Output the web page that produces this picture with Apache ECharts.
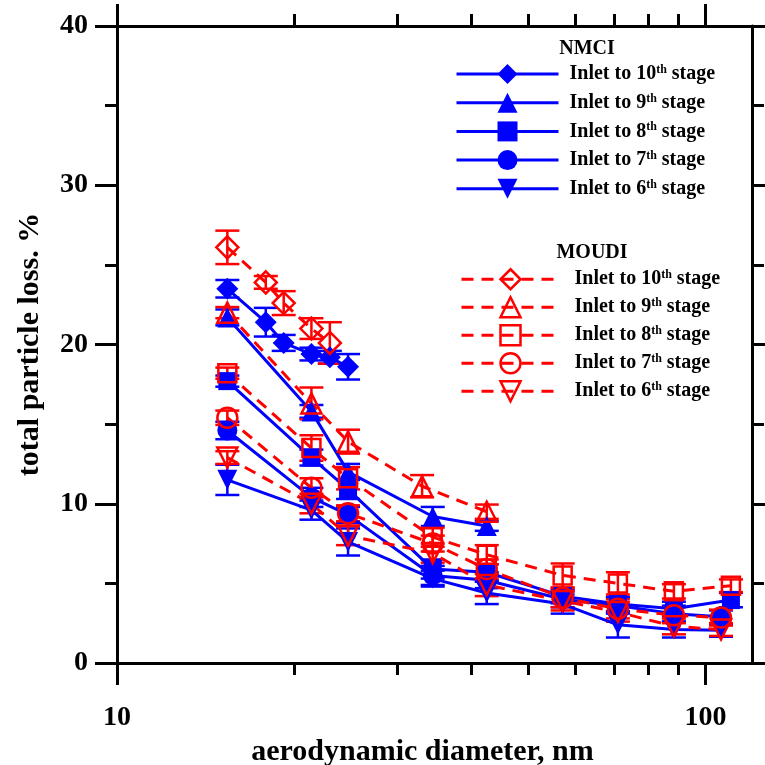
<!DOCTYPE html>
<html>
<head>
<meta charset="utf-8">
<script src="https://cdn.jsdelivr.net/npm/echarts@6/dist/echarts.min.js"></script>
<style>
  html, body { margin: 0; padding: 0; background: #fff; }
  #chart { width: 765px; height: 765px; }
</style>
</head>
<body>
<div id="chart"></div>
<script>
// Aerodynamic diameters (nm) and total particle loss (%) with error half-widths

// NMCI, inlet to 10th stage
const nmci10Size = [15.4, 17.9, 19.2, 21.4, 23.0, 24.7];
const nmci10Loss = [23.5, 21.4, 20.1, 19.4, 19.2, 18.6];
const nmci10Err  = [0.55, 0.9, 0.5, 0.4, 0.4, 0.8];
// NMCI, inlet to 9th stage
const nmci9Size = [15.4, 21.4, 24.7, 34.4, 42.5];
const nmci9Loss = [21.7, 15.8, 12.0, 9.2, 8.6];
const nmci9Err  = [0.5, 0.4, 0.5, 0.6, 0.3];
// NMCI, inlet to 8th stage
const nmci8Size = [15.4, 21.4, 24.7, 34.4, 42.5, 57.2, 71.0, 88.4, 110.5];
const nmci8Loss = [17.7, 12.9, 10.9, 5.9, 5.7, 4.2, 3.7, 3.4, 3.95];
const nmci8Err  = [0.35, 0.5, 0.6, 0.6, 0.5, 0.45, 0.45, 0.45, 0.45];
// NMCI, inlet to 7th stage
const nmci7Size = [15.4, 21.4, 24.7, 34.4, 42.5, 57.2, 71.0, 88.4, 106.3];
const nmci7Loss = [14.6, 10.4, 9.3, 5.5, 5.2, 4.0, 3.6, 3.1, 2.9];
const nmci7Err  = [0.55, 0.6, 0.5, 0.6, 0.5, 0.5, 0.5, 0.5, 0.4];
// NMCI, inlet to 6th stage
const nmci6Size = [15.4, 21.4, 24.7, 34.4, 42.5, 57.2, 71.0, 88.4, 106.3];
const nmci6Loss = [11.5, 9.6, 7.6, 5.3, 4.4, 3.7, 2.4, 2.1, 2.05];
const nmci6Err  = [0.95, 0.6, 0.85, 0.5, 0.7, 0.6, 0.8, 0.5, 0.4];

// MOUDI, inlet to 10th stage
const moudi10Size = [15.4, 17.9, 19.2, 21.4, 23.0];
const moudi10Loss = [26.1, 23.9, 22.6, 21.0, 20.1];
const moudi10Err  = [1.05, 0.4, 0.75, 0.65, 1.3];
// MOUDI, inlet to 9th stage
const moudi9Size = [15.4, 21.4, 24.7, 33.0, 42.5];
const moudi9Loss = [22.0, 16.3, 13.9, 11.1, 9.5];
const moudi9Err  = [0.35, 1.0, 0.75, 0.7, 0.45];
// MOUDI, inlet to 8th stage
const moudi8Size = [15.4, 21.4, 24.7, 34.4, 42.5, 57.2, 71.0, 88.4, 110.5];
const moudi8Loss = [18.2, 13.5, 11.6, 7.9, 6.8, 5.5, 5.0, 4.5, 4.85];
const moudi8Err  = [0.35, 0.8, 0.7, 0.6, 0.6, 0.75, 0.7, 0.45, 0.4];
// MOUDI, inlet to 7th stage
const moudi7Size = [15.4, 21.4, 24.7, 34.4, 42.5, 57.2, 71.0, 88.4, 106.3];
const moudi7Loss = [15.4, 11.0, 9.4, 7.5, 5.9, 4.1, 3.4, 3.0, 2.85];
const moudi7Err  = [0.45, 0.6, 0.5, 0.5, 0.6, 0.6, 0.6, 0.5, 0.5];
// MOUDI, inlet to 6th stage
const moudi6Size = [15.4, 21.4, 24.7, 34.4, 42.5, 57.2, 71.0, 88.4, 106.3];
const moudi6Loss = [12.9, 10.0, 8.0, 6.9, 4.9, 3.9, 3.2, 2.3, 2.1];
const moudi6Err  = [0.4, 0.6, 0.6, 0.6, 0.7, 0.6, 0.6, 0.5, 0.4];

// Axis ticks
const xMajorTicks = [10, 100];
const xMinorTicks = [20, 30, 40, 50, 60, 70, 80, 90];
const stageNumbers = ['10', '9', '8', '7', '6'];

const FONT = '"Liberation Serif", "Times New Roman", serif';
const BLUE = '#0000ff';
const RED = '#ff0000';

const chart = echarts.init(document.getElementById('chart'), null, { renderer: 'canvas' });

function pairs(sizes, loss) {
  return sizes.map((s, i) => [s, loss[i]]);
}

// Vertical error bar with caps at both ends
function errorBars(name, sizes, loss, err, color) {
  return {
    type: 'custom',
    name: name,
    xAxisIndex: 0,
    yAxisIndex: 0,
    silent: true,
    animation: false,
    data: sizes.map((s, i) => [s, loss[i] - err[i], loss[i] + err[i]]),
    encode: { x: 0, y: [1, 2] },
    renderItem: function (params, api) {
      const lo = api.coord([api.value(0), api.value(1)]);
      const hi = api.coord([api.value(0), api.value(2)]);
      const hw = 12;
      const style = { stroke: color, lineWidth: 2.5, fill: null };
      return {
        type: 'group',
        children: [
          { type: 'line', shape: { x1: lo[0], y1: lo[1], x2: hi[0], y2: hi[1] }, style: style },
          { type: 'line', shape: { x1: lo[0] - hw, y1: lo[1], x2: lo[0] + hw, y2: lo[1] }, style: style },
          { type: 'line', shape: { x1: hi[0] - hw, y1: hi[1], x2: hi[0] + hw, y2: hi[1] }, style: style }
        ]
      };
    }
  };
}

const symbolDefs = [
  { symbol: 'diamond', size: 22, rotate: 0 },
  { symbol: 'triangle', size: 20, rotate: 0 },
  { symbol: 'rect', size: 18, rotate: 0 },
  { symbol: 'circle', size: 20, rotate: 0 },
  { symbol: 'triangle', size: 20, rotate: 180 }
];

function nmciLine(idx, sizes, loss) {
  const d = symbolDefs[idx];
  return {
    type: 'line',
    name: 'NMCI ' + stageNumbers[idx],
    xAxisIndex: 0, yAxisIndex: 0,
    data: pairs(sizes, loss),
    symbol: d.symbol, symbolSize: d.size, symbolRotate: d.rotate,
    showAllSymbol: true,
    lineStyle: { color: BLUE, width: 3, type: 'solid' },
    itemStyle: { color: BLUE, borderWidth: 0 },
    animation: false
  };
}

function moudiLine(idx, sizes, loss) {
  const d = symbolDefs[idx];
  return {
    type: 'line',
    name: 'MOUDI ' + stageNumbers[idx],
    xAxisIndex: 0, yAxisIndex: 0,
    data: pairs(sizes, loss),
    symbol: d.symbol, symbolSize: d.size, symbolRotate: d.rotate,
    showAllSymbol: true,
    lineStyle: { color: RED, width: 3, type: [12, 8] },
    itemStyle: { color: 'rgba(255,255,255,0)', borderColor: RED, borderWidth: 2.5 },
    animation: false
  };
}

const nmciSets = [
  [nmci10Size, nmci10Loss, nmci10Err],
  [nmci9Size, nmci9Loss, nmci9Err],
  [nmci8Size, nmci8Loss, nmci8Err],
  [nmci7Size, nmci7Loss, nmci7Err],
  [nmci6Size, nmci6Loss, nmci6Err]
];
const moudiSets = [
  [moudi10Size, moudi10Loss, moudi10Err],
  [moudi9Size, moudi9Loss, moudi9Err],
  [moudi8Size, moudi8Loss, moudi8Err],
  [moudi7Size, moudi7Loss, moudi7Err],
  [moudi6Size, moudi6Loss, moudi6Err]
];

const series = [];
nmciSets.forEach((s, i) => series.push(errorBars('nmci-err-' + i, s[0], s[1], s[2], BLUE)));
nmciSets.forEach((s, i) => series.push(nmciLine(i, s[0], s[1])));
moudiSets.forEach((s, i) => series.push(errorBars('moudi-err-' + i, s[0], s[1], s[2], RED)));
moudiSets.forEach((s, i) => series.push(moudiLine(i, s[0], s[1])));

function legendText(lead) {
  return {
    fontFamily: FONT, fontWeight: 'bold', fontSize: 20, color: '#000',
    rich: {
      p: { width: lead, lineHeight: 20 },
      t: { fontFamily: FONT, fontWeight: 'bold', fontSize: 20, color: '#000', lineHeight: 20 },
      s: { fontFamily: FONT, fontWeight: 'bold', fontSize: 12, color: '#000', verticalAlign: 'top', lineHeight: 20 }
    }
  };
}
function legendFormatter(name) {
  const n = name.split(' ')[1];
  return '{p|}{t|Inlet to ' + n + '}{s|th}{t| stage}';
}

function tickStyle() { return { color: '#000', width: 3 }; }

const xBase = { type: 'log', logBase: 10, min: 10, max: 120, gridIndex: 0, splitLine: { show: false }, minorSplitLine: { show: false } };

const option = {
  backgroundColor: '#fff',
  animation: false,
  grid: { left: 117, right: 13, top: 26, bottom: 102, containLabel: false, outerBoundsMode: 'none' },
  xAxis: [
    Object.assign({}, xBase, {
      position: 'bottom',
      axisLine: { show: true, lineStyle: { color: '#000', width: 3 } },
      axisTick: { show: true, customValues: xMajorTicks, length: 22, inside: false, lineStyle: tickStyle() },
      axisLabel: { show: true, customValues: xMajorTicks, fontFamily: FONT, fontWeight: 'bold', fontSize: 28, color: '#000', margin: 41 },
      name: 'aerodynamic diameter, nm',
      nameLocation: 'middle',
      nameGap: 65,
      nameTextStyle: { fontFamily: FONT, fontWeight: 'bold', fontSize: 30, color: '#000', padding: [0, 24, 0, 0] }
    }),
    Object.assign({}, xBase, {
      position: 'bottom',
      axisLine: { show: false },
      axisTick: { show: true, customValues: xMinorTicks, length: 12, inside: false, lineStyle: tickStyle() },
      axisLabel: { show: false }
    }),
    Object.assign({}, xBase, {
      position: 'top',
      axisLine: { show: true, lineStyle: { color: '#000', width: 3 } },
      axisTick: { show: true, customValues: xMajorTicks, length: 22, inside: false, lineStyle: tickStyle() },
      axisLabel: { show: false }
    }),
    Object.assign({}, xBase, {
      position: 'top',
      axisLine: { show: false },
      axisTick: { show: true, customValues: xMinorTicks, length: 12, inside: false, lineStyle: tickStyle() },
      axisLabel: { show: false }
    })
  ],
  yAxis: [
    {
      type: 'value', min: 0, max: 40, interval: 10, position: 'left',
      axisLine: { show: true, lineStyle: { color: '#000', width: 3 } },
      axisTick: { show: true, length: 22, inside: false, lineStyle: tickStyle() },
      minorTick: { show: true, splitNumber: 2, length: 12, lineStyle: tickStyle() },
      axisLabel: { fontFamily: FONT, fontWeight: 'bold', fontSize: 28, color: '#000', margin: 29 },
      splitLine: { show: false }, minorSplitLine: { show: false },
      name: 'total particle loss. %',
      nameLocation: 'middle',
      nameGap: 72,
      nameRotate: 90,
      nameTextStyle: { fontFamily: FONT, fontWeight: 'bold', fontSize: 30, color: '#000' }
    },
    {
      type: 'value', min: 0, max: 40, interval: 10, position: 'right',
      axisLine: { show: true, lineStyle: { color: '#000', width: 3 } },
      axisTick: { show: true, length: 22, inside: false, lineStyle: tickStyle() },
      minorTick: { show: true, splitNumber: 2, length: 12, lineStyle: tickStyle() },
      axisLabel: { show: false },
      splitLine: { show: false }, minorSplitLine: { show: false }
    }
  ],
  legend: [
    {
      data: stageNumbers.map(n => 'NMCI ' + n),
      orient: 'vertical', left: 455, top: 64, padding: 0,
      itemWidth: 102, itemHeight: 25, itemGap: 8.7,
      formatter: legendFormatter,
      textStyle: legendText(6),
      lineStyle: { width: 3 },
      selectedMode: false
    },
    {
      data: stageNumbers.map(n => 'MOUDI ' + n),
      orient: 'vertical', left: 460, top: 268, padding: 0,
      itemWidth: 98, itemHeight: 25, itemGap: 5.5,
      formatter: legendFormatter,
      textStyle: legendText(10),
      lineStyle: { width: 3 },
      itemStyle: { borderWidth: 2.5 },
      selectedMode: false
    }
  ],
  graphic: [
    { type: 'text', x: 587, y: 49, style: { text: 'NMCI', fontFamily: FONT, fontWeight: 'bold', fontSize: 20, fill: '#000', align: 'center', verticalAlign: 'middle' } },
    { type: 'text', x: 592, y: 253, style: { text: 'MOUDI', fontFamily: FONT, fontWeight: 'bold', fontSize: 20, fill: '#000', align: 'center', verticalAlign: 'middle' } }
  ],
  series: series
};

chart.setOption(option);
</script>
</body>
</html>
